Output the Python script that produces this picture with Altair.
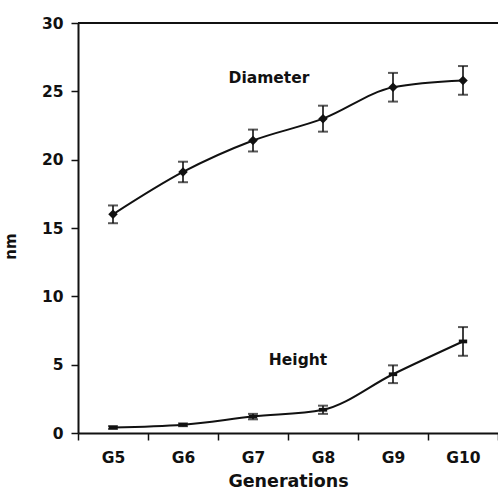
import altair as alt
import pandas as pd

# Dendrimer size by generation (nm), mean with error
generations = ["G5", "G6", "G7", "G8", "G9", "G10"]
diameter = [16.0, 19.1, 21.4, 23.0, 25.3, 25.8]
diameter_err = [0.65, 0.75, 0.8, 0.95, 1.05, 1.05]
height = [0.4, 0.6, 1.2, 1.7, 4.3, 6.7]
height_err = [0.1, 0.1, 0.2, 0.3, 0.65, 1.05]

series_labels = ["Diameter", "Height"]
label_gen = ["G7", "G8"]
label_y = [26.0, 5.35]
label_dx = [16, -25]

rows = []
for name, vals, errs in (("Diameter", diameter, diameter_err), ("Height", height, height_err)):
    for g, v, e in zip(generations, vals, errs):
        rows.append({"series": name, "gen": g, "value": v, "lo": v - e, "hi": v + e})
df = pd.DataFrame(rows)

labels_df = pd.DataFrame({"text": series_labels, "gen": label_gen, "y": label_y, "dx": label_dx})

INK = "#111111"
FONT = "DejaVu Sans"

x_enc = alt.X(
    "gen:N",
    sort=generations,
    bandPosition=0.5,
    scale=alt.Scale(type="band", domain=generations, paddingInner=0, paddingOuter=0),
    axis=alt.Axis(
        title="Generations",
        tickBand="extent",
        labelAngle=0,
        labelFontSize=15.5,
        labelFontWeight="bold",
        labelPadding=10,
        tickSize=7,
        tickWidth=1.5,
        domainWidth=2,
        titleFontSize=17.5,
        titleFontWeight="bold",
        titleY=39,
        titleBaseline="top",
    ),
)

y_scale = alt.Scale(domain=[0, 30], nice=False, zero=True)
y_axis = alt.Axis(
    title="nm",
    values=[0, 5, 10, 15, 20, 25, 30],
    grid=False,
    tickSize=7,
    tickWidth=1.5,
    domainWidth=2,
    labelFontSize=15.5,
    labelFontWeight="bold",
    labelPadding=8,
    titleFontSize=15,
    titleFontWeight="bold",
    titleAngle=-90,
    titleX=-60,
    titleY=223,
    titleBaseline="bottom",
)

base = alt.Chart(df)
x_pt = alt.X("gen:N", sort=generations, bandPosition=0.5)

lines = base.mark_line(interpolate="monotone", color=INK, strokeWidth=2).encode(
    x=x_enc,
    y=alt.Y("value:Q", scale=y_scale, axis=y_axis),
    detail="series:N",
)

err_rules = base.mark_rule(color=INK, strokeWidth=1.6).encode(x=x_pt, y="lo:Q", y2="hi:Q")

caps_lo = base.mark_tick(color=INK, size=10, thickness=2, orient="horizontal").encode(x=x_pt, y="lo:Q")
caps_hi = base.mark_tick(color=INK, size=10, thickness=2, orient="horizontal").encode(x=x_pt, y="hi:Q")

diam_pts = base.transform_filter(alt.datum.series == "Diameter").mark_point(
    shape="diamond", filled=True, color=INK, size=90, opacity=1
).encode(x=x_pt, y="value:Q")

height_pts = base.transform_filter(alt.datum.series == "Height").mark_point(
    shape="M-1,-0.45L1,-0.45L1,0.45L-1,0.45Z", filled=True, color=INK, size=70, opacity=1
).encode(x=x_pt, y="value:Q")

names = alt.layer(*[
    alt.Chart(labels_df.iloc[[i]]).mark_text(
        font=FONT, fontSize=15.5, fontWeight="bold", color=INK,
        align="center", baseline="middle", dx=int(labels_df.dx[i])
    ).encode(x=x_pt, y="y:Q", text="text:N")
    for i in range(len(labels_df))
])

top_frame = alt.Chart(pd.DataFrame({"k": [0]})).mark_rule(color=INK, strokeWidth=2).encode(
    x=alt.value(0), x2=alt.value(420), y=alt.value(0)
)

chart = (
    alt.layer(lines, err_rules, caps_lo, caps_hi, diam_pts, height_pts, names, top_frame)
    .properties(
        width=420,
        height=410,
        autosize=alt.AutoSizeParams(type="none"),
        padding={"left": 78, "top": 23, "right": 0, "bottom": 57},
    )
    .configure(font=FONT)
    .configure_view(stroke="#d9d9d9", strokeWidth=1)
    .configure_axis(domainColor=INK, tickColor=INK, labelColor=INK, titleColor=INK, labelFont=FONT, titleFont=FONT)
)

chart.save("out.html", embed_options={"renderer": "svg", "actions": False})
